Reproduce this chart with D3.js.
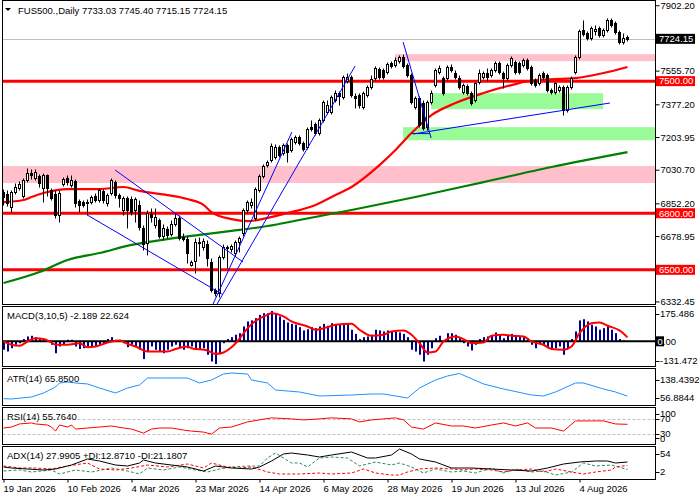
<!DOCTYPE html>
<html>
<head>
<meta charset="utf-8">
<script src="https://cdn.jsdelivr.net/npm/d3@7"></script>
<style>
  body { margin: 0; background: #fff; }
  text { font-family: "Liberation Sans", Arial, sans-serif; font-size: 9.5px; fill: #000; }
</style>
</head>
<body>
<svg id="chart" width="700" height="500"></svg>
<script>
// daily bars
const opens = [6912,6902,6833,6912,6934,6891,6976,7013,6987,6997,6934,7002,6923,6902,6791,6955,6987,6949,6971,6865,
  6859,6854,6859,6891,6870,6918,6854,6907,6965,6896,6817,6881,6875,6817,6844,6722,6642,6796,6738,6764,
  6679,6716,6690,6743,6775,6674,6663,6525,6547,6642,6621,6637,6541,6393,6377,6568,6621,6610,6589,6647,
  6695,6817,6844,6775,6923,6997,7055,7082,7098,7151,7119,7162,7135,7177,7204,7172,7151,7257,7273,7225,
  7294,7336,7336,7400,7437,7416,7501,7522,7421,7426,7363,7426,7469,7516,7564,7559,7548,7596,7585,7607,
  7628,7585,7532,7363,7410,7384,7257,7389,7479,7548,7516,7516,7575,7543,7516,7442,7474,7437,7400,7495,
  7522,7543,7532,7559,7596,7543,7516,7585,7601,7596,7585,7612,7575,7506,7490,7543,7532,7453,7442,7453,
  7469,7347,7469,7548,7628,7771,7755,7729,7766,7782,7745,7771,7824,7808,7760,7707,7733.03];
const highs = [6928,6923,6923,6960,6971,6987,7040,7034,7034,7008,7013,7008,6934,6923,6923,6992,7002,7002,6981,6875,
  6870,6875,6896,6907,6934,6928,6907,6987,6976,6907,6891,6891,6891,6886,6870,6738,6817,6828,6828,6775,
  6743,6732,6764,6801,6791,6695,6679,6552,6669,6674,6669,6658,6563,6404,6579,6637,6632,6637,6658,6679,
  6828,6870,6881,6939,7008,7061,7082,7172,7167,7162,7172,7172,7204,7215,7215,7183,7257,7294,7283,7304,
  7400,7400,7426,7453,7448,7532,7543,7532,7437,7437,7448,7479,7532,7580,7575,7570,7601,7607,7628,7638,
  7644,7596,7543,7421,7421,7400,7400,7453,7570,7585,7527,7585,7591,7559,7532,7490,7484,7448,7495,7564,
  7554,7570,7570,7607,7607,7554,7596,7633,7612,7607,7623,7623,7585,7516,7543,7554,7543,7463,7495,7479,
  7479,7479,7527,7638,7776,7824,7766,7792,7798,7792,7782,7835,7835,7819,7771,7755,7745.40];
const lows = [6844,6838,6806,6902,6923,6881,6965,6981,6976,6939,6859,6891,6870,6775,6753,6944,6949,6939,6833,6806,
  6833,6791,6849,6859,6859,6854,6838,6896,6881,6833,6791,6722,6791,6753,6711,6605,6579,6753,6722,6669,
  6658,6669,6679,6732,6658,6653,6536,6520,6483,6573,6605,6520,6382,6361,6356,6557,6510,6594,6573,6594,
  6679,6801,6828,6764,6912,6987,7045,7071,7087,7098,7108,7071,7124,7167,7162,7130,7140,7236,7215,7215,
  7283,7326,7326,7389,7373,7405,7490,7416,7357,7357,7352,7416,7458,7506,7511,7511,7538,7570,7575,7596,
  7570,7522,7379,7352,7257,7241,7241,7379,7469,7538,7426,7506,7548,7511,7458,7432,7426,7373,7389,7484,
  7511,7500,7522,7548,7538,7463,7506,7575,7538,7538,7575,7559,7479,7469,7479,7511,7442,7432,7432,7442,
  7320,7336,7458,7538,7617,7739,7718,7718,7745,7734,7734,7760,7787,7750,7697,7697,7715.15];
const closes = [6886,6854,6912,6939,6955,6976,7013,7002,7018,6960,7002,6934,6881,6791,6907,6981,6965,6976,6854,6844,
  6844,6859,6886,6870,6923,6870,6896,6976,6896,6881,6881,6817,6806,6875,6727,6637,6801,6780,6780,6679,
  6722,6685,6743,6775,6669,6663,6589,6541,6647,6647,6653,6563,6393,6377,6568,6621,6616,6626,6647,6669,
  6817,6859,6859,6928,6997,7050,7071,7156,7151,7108,7162,7124,7193,7204,7172,7140,7246,7246,7225,7294,
  7389,7373,7416,7437,7421,7522,7522,7426,7410,7373,7437,7469,7511,7570,7522,7522,7591,7580,7612,7628,
  7580,7532,7389,7410,7267,7251,7389,7437,7559,7570,7437,7575,7559,7522,7469,7479,7437,7384,7490,7543,
  7543,7522,7559,7596,7548,7516,7585,7623,7548,7548,7612,7570,7490,7479,7532,7522,7453,7442,7490,7469,
  7347,7469,7516,7628,7766,7750,7729,7782,7776,7745,7771,7824,7798,7760,7707,7729,7724.15];

// x axis labels, one every 16 bars
const dateLabels = ["19 Jan 2026","10 Feb 2026","4 Mar 2026","23 Mar 2026","14 Apr 2026",
  "6 May 2026","28 May 2026","19 Jun 2026","13 Jul 2026","4 Aug 2026"];
const labelStep = 16;

// price axis
const priceTicks = [7902.20, 7555.70, 7377.20, 7203.95, 7030.70, 6852.20, 6678.95, 6332.45];
const levels = [7500, 6800, 6500];
const lastPrice = 7724.15;

// moving averages as [bar, value]
const maRed = [[0,6859],[5,6870],[7,6886],[10,6907],[16,6928],[24,6928],[30,6939],[34,6918],[41,6896],[46,6875],
  [50,6844],[52,6806],[57,6769],[61,6758],[66,6775],[71,6801],[78,6844],[83,6896],[87,6939],[94,7055],
  [98,7135],[102,7225],[107,7320],[113,7384],[120,7437],[127,7479],[133,7506],[143,7516],[150,7543],[156,7575]];
const maGreen = [[0,6430],[9,6488],[16,6552],[24,6589],[32,6632],[41,6663],[49,6685],[57,6706],[66,6732],
  [74,6764],[87,6817],[103,6886],[120,6965],[137,7045],[156,7124]];

// zones: low, high, first bar, last bar (null = right edge)
const zoneLow   = [6960, 7606, 7351, 7187];
const zoneHigh  = [7050, 7643, 7436, 7256];
const zoneStart = [-1, 97.9, 106.9, 99.9];
const zoneEnd   = [null, null, 149.9, null];
const zoneKind  = ["pink", "pink", "green", "green"];

// trend lines [bar1, price1, bar2, price2]
const trendLines = [[27.9,7029,59.9,6541],[20.9,6791,54.6,6372],[52.4,6319,72.1,7230],[53.4,6319,87.9,7580],
  [99.9,7707,106.9,7199],[102.4,7220,151.6,7384],[102.1,7222,106.6,7222]];

// MACD(3,10,5)
const macdHist = [-49,-59,-40,-20,-11,13,28,32,24,13,9,5,-20,-69,-30,-20,9,9,-30,-45,
  -40,-30,-30,-26,-20,-11,13,24,9,9,-11,-34,-20,-30,-49,-103,-59,-30,-49,-59,
  -69,-49,-30,-20,-34,-49,-40,-30,-45,-49,-40,-78,-117,-131.472,-69,-11,13,24,38,47,
  86,115,121,134,153,163,163,175.486,163,144,124,109,101,96,82,63,70,82,76,86,
  101,90,105,101,96,96,101,67,43,13,24,28,38,67,63,57,63,57,57,51,
  43,24,-49,-59,-78,-117,-78,-40,18,32,5,47,47,38,24,-11,-30,-53,-20,13,
  24,28,32,51,38,18,32,43,28,28,24,18,-20,-40,-14,-20,-40,-40,-40,-30,
  -78,-40,13,57,121,128,115,96,86,67,76,86,67,47,13,5,-2.189];
const macdSignal = [[0,-1],[2,-20],[4,-26],[6,-1],[8,18],[10,13],[12,-7],[13,-20],[16,-20],[19,-11],[21,-34],
  [23,-30],[26,-7],[29,5],[31,-15],[33,-30],[36,-59],[38,-59],[41,-59],[43,-45],[46,-30],[47,-40],[51,-53],
  [53,-74],[55,-65],[57,-35],[59,15],[61,75],[63,118],[66,153],[67,163],[70,144],[72,115],[76,86],[78,67],
  [81,82],[83,96],[87,101],[89,67],[92,32],[95,38],[97,57],[100,63],[102,38],[104,-11],[106,-65],[108,-59],
  [110,-1],[113,28],[115,13],[117,-11],[120,-7],[122,32],[125,38],[127,32],[130,28],[132,-1],[135,-20],
  [137,-45],[140,-49],[142,-30],[144,47],[147,105],[149,109],[151,90],[154,63],[156,22.624]];

// ATR(14)
const atr = [[0,58],[2,56.9],[7,63.2],[10,75.7],[13,94.5],[14,107.1],[16,110.2],[18,107.1],[21,104],[24,91.4],
  [28,75.7],[31,91.4],[34,100.8],[36,122.8],[41,122.8],[46,122.8],[49,107.1],[52,116.5],[55,135.3],[57,138.4],
  [61,135.3],[62,116.5],[66,107.1],[68,85.1],[74,78.8],[79,66.3],[87,69.4],[92,72.6],[95,72.6],[101,60],
  [104,91.4],[108,116.5],[111,129],[114,137],[116,125.9],[120,104],[125,88.3],[132,69.4],[135,66.3],
  [138,78.8],[143,107.1],[145,107.1],[150,88.3],[153,78.8],[156,65.85]];

// RSI(14)
const rsi = [[0,46],[2,48.6],[4,56.8],[7,59.5],[8,56.8],[11,54],[12,48.6],[13,37.8],[14,54],[16,48.6],[17,54],
  [18,43.2],[21,46],[24,48.6],[27,51.4],[30,46],[32,43.2],[35,32.4],[37,43.2],[39,46],[42,46],[45,40.5],
  [47,37.8],[50,35.1],[52,29.7],[54,46],[57,48.6],[61,62.2],[64,67.6],[67,73],[72,70.3],[75,67.6],[79,70.3],
  [82,73],[87,70.3],[89,62.2],[92,67.6],[95,70.3],[98,73],[100,67.6],[102,48.6],[105,43.2],[108,59.5],
  [112,51.4],[115,51.4],[118,46],[122,54],[125,59.5],[128,51.4],[131,59.5],[133,46],[137,46],[140,37.8],
  [143,64.9],[147,64.9],[150,64.9],[153,56.8],[156,55.764]];
const rsiLevels = [70, 30];

// ADX(14)
const adx = [[0,18],[2,16],[6,14],[10,12],[13,14],[17,22],[21,34],[24,30],[28,22],[31,20],[34,26],[35,32],
  [38,26],[42,22],[46,18],[50,10],[53,20],[57,16],[62,14],[64,18],[67,30],[70,44],[72,46],[76,42],[79,38],
  [82,42],[87,48],[91,36],[93,36],[97,42],[99,54],[102,44],[104,34],[108,28],[112,16],[117,16],[122,14],
  [127,12],[132,10],[136,16],[140,24],[144,28],[148,30],[151,30],[153,26],[156,27.9905]];
const plusDI = [[0,10],[4,12],[7,8],[12,12],[14,4],[18,12],[22,8],[27,16],[31,10],[34,4],[36,16],[40,12],
  [44,18],[48,12],[51,8],[54,14],[57,18],[61,20],[64,20],[66,36],[68,46],[72,26],[74,26],[76,18],[79,36],
  [82,38],[86,36],[89,20],[93,28],[97,22],[99,26],[102,18],[105,6],[108,14],[112,8],[115,10],[118,6],
  [122,16],[125,6],[128,14],[132,8],[135,10],[138,2],[142,8],[145,26],[148,20],[152,22],[156,12.871]];
const minusDI = [[0,20],[4,16],[8,16],[12,14],[16,20],[21,26],[24,14],[28,12],[32,16],[36,22],[41,18],[46,24],
  [50,16],[52,26],[56,18],[59,16],[62,18],[66,8],[69,4],[74,4],[79,6],[82,4],[87,6],[90,14],[93,6],[97,2],
  [99,2],[101,8],[104,14],[108,16],[112,14],[115,12],[118,14],[122,12],[125,8],[128,12],[132,14],[135,8],
  [138,14],[142,8],[145,4],[148,8],[152,12],[153,18],[156,21.1807]];

const svg = d3.select("#chart");
svg.append("rect").attr("width", 700).attr("height", 500).attr("fill", "#fff");

const N = closes.length;
const left = 2.5, right = 655.5;
const panels = {
  main: [0.5, 304.5], macd: [306.5, 366.5], atr: [368.5, 405.5], rsi: [407.5, 444.5], adx: [446.5, 479.5]
};

const x = d3.scaleLinear().domain([0, N - 1]).range([3.5, 3.5 + 4 * (N - 1)]);
const yMain = d3.scaleLinear().domain([6313.5, 7924.7]).range([305, 1]);
const yMacd = d3.scaleLinear().domain([-131.472, 175.486]).range([364, 311]);
const yAtr = d3.scaleLinear().domain([56.8844, 138.4392]).range([399, 373]);
const yRsi = d3.scaleLinear().domain([0, 100]).range([445.25, 407.75]);
const yAdx = d3.scaleLinear().domain([2, 54]).range([475, 449]);

// clip paths for each panel
const defs = svg.append("defs");
Object.entries(panels).forEach(([k, [t, b]]) => {
  defs.append("clipPath").attr("id", "clip-" + k)
    .append("rect").attr("x", left + 0.5).attr("y", t + 0.5)
    .attr("width", right - left - 1).attr("height", b - t - 1);
});
const layer = (k) => svg.append("g").attr("clip-path", `url(#clip-${k})`);

// ---------- main chart ----------
const gMain = layer("main");

gMain.selectAll("rect.zone")
  .data(zoneLow.map((lo, i) => ({ lo, hi: zoneHigh[i], s: zoneStart[i], e: zoneEnd[i], k: zoneKind[i] })))
  .join("rect")
  .attr("class", "zone")
  .attr("x", (d) => x(d.s))
  .attr("width", (d) => (d.e === null ? right : x(d.e)) - x(d.s))
  .attr("y", (d) => yMain(d.hi))
  .attr("height", (d) => yMain(d.lo) - yMain(d.hi))
  .attr("fill", (d) => (d.k === "pink" ? "#ffc0cb" : "#98fb98"));

// current price line
gMain.append("line")
  .attr("x1", left).attr("x2", right)
  .attr("y1", Math.round(yMain(lastPrice)) + 0.5).attr("y2", Math.round(yMain(lastPrice)) + 0.5)
  .attr("stroke", "#c0c0c0");

gMain.selectAll("line.level")
  .data(levels)
  .join("line")
  .attr("class", "level")
  .attr("x1", left).attr("x2", right)
  .attr("y1", (d) => yMain(d)).attr("y2", (d) => yMain(d))
  .attr("stroke", "#ff0000").attr("stroke-width", 3);

const maLine = d3.line().x((d) => x(d[0])).y((d) => yMain(d[1])).curve(d3.curveMonotoneX);
gMain.append("path").attr("d", maLine(maGreen)).attr("fill", "none")
  .attr("stroke", "#008000").attr("stroke-width", 2.2);
gMain.append("path").attr("d", maLine(maRed)).attr("fill", "none")
  .attr("stroke", "#ff0000").attr("stroke-width", 2.2);

// candles
const bars = d3.range(N);
const snap = (v) => Math.round(v) + 0.5;
const candle = gMain.selectAll("g.candle").data(bars).join("g").attr("class", "candle");
candle.append("line")
  .attr("x1", (i) => x(i)).attr("x2", (i) => x(i))
  .attr("y1", (i) => snap(yMain(highs[i]))).attr("y2", (i) => snap(yMain(lows[i])))
  .attr("stroke", "#000");
candle.append("rect")
  .attr("x", (i) => x(i) - 1)
  .attr("width", 2)
  .attr("y", (i) => snap(yMain(Math.max(opens[i], closes[i]))))
  .attr("height", (i) => Math.max(0, snap(yMain(Math.min(opens[i], closes[i]))) - snap(yMain(Math.max(opens[i], closes[i])))))
  .attr("fill", (i) => (closes[i] >= opens[i] ? "#fff" : "#000"))
  .attr("stroke", "#000");

// trend lines
gMain.selectAll("line.trend")
  .data(trendLines)
  .join("line")
  .attr("class", "trend")
  .attr("x1", (d) => x(d[0])).attr("y1", (d) => yMain(d[1]))
  .attr("x2", (d) => x(d[2])).attr("y2", (d) => yMain(d[3]))
  .attr("stroke", "#0000ff").attr("stroke-width", 1);

// ---------- MACD ----------
const gMacd = layer("macd");
gMacd.selectAll("rect").data(macdHist).join("rect")
  .attr("x", (d, i) => x(i) - 0.5)
  .attr("width", 2)
  .attr("y", (d) => Math.min(yMacd(0), yMacd(d)))
  .attr("height", (d) => Math.abs(yMacd(d) - yMacd(0)))
  .attr("fill", "#00008b");
gMacd.append("line").attr("x1", left).attr("x2", right)
  .attr("y1", yMacd(0)).attr("y2", yMacd(0))
  .attr("stroke", "#000").attr("stroke-width", 2);
const lineOf = (sc) => d3.line().x((d) => x(d[0])).y((d) => sc(d[1])).curve(d3.curveMonotoneX);
gMacd.append("path").attr("d", lineOf(yMacd)(macdSignal)).attr("fill", "none")
  .attr("stroke", "#ff0000").attr("stroke-width", 2);

// ---------- ATR ----------
const gAtr = layer("atr");
gAtr.append("path").attr("d", d3.line().x((d) => x(d[0])).y((d) => yAtr(d[1]))(atr))
  .attr("fill", "none").attr("stroke", "#1e90ff").attr("stroke-width", 1);

// ---------- RSI ----------
const gRsi = layer("rsi");
gRsi.selectAll("line.lvl").data(rsiLevels).join("line")
  .attr("x1", left).attr("x2", right)
  .attr("y1", (d) => snap(yRsi(d))).attr("y2", (d) => snap(yRsi(d)))
  .attr("stroke", "#c0c0c0").attr("stroke-dasharray", "3,2");
gRsi.append("path").attr("d", d3.line().x((d) => x(d[0])).y((d) => yRsi(d[1]))(rsi))
  .attr("fill", "none").attr("stroke", "#ff0000").attr("stroke-width", 1);

// ---------- ADX ----------
const gAdx = layer("adx");
const adxLine = d3.line().x((d) => x(d[0])).y((d) => yAdx(d[1]));
gAdx.append("path").attr("d", adxLine(plusDI)).attr("fill", "none")
  .attr("stroke", "#2e8b57").attr("stroke-dasharray", "3,2");
gAdx.append("path").attr("d", adxLine(minusDI)).attr("fill", "none")
  .attr("stroke", "#ff0000").attr("stroke-dasharray", "3,2");
gAdx.append("path").attr("d", adxLine(adx)).attr("fill", "none")
  .attr("stroke", "#000").attr("stroke-width", 1);

// ---------- frames ----------
Object.values(panels).forEach(([t, b]) => {
  svg.append("rect").attr("x", left).attr("y", t).attr("width", right - left).attr("height", b - t)
    .attr("fill", "none").attr("stroke", "#000");
});

// ---------- axes ----------
const priceAxis = svg.append("g").attr("transform", `translate(${right},0)`)
  .call(d3.axisRight(yMain).tickValues(priceTicks).tickFormat(d3.format(".2f")).tickSize(4).tickPadding(1));
priceAxis.select(".domain").remove();
priceAxis.selectAll("text").style("font-size", "9.5px").style("font-family", '"Liberation Sans", Arial, sans-serif');

// labelled boxes on the price scale
const boxes = [{ v: lastPrice, c: "#000" }].concat(levels.map((v) => ({ v, c: "#ff0000" })));
const boxG = svg.selectAll("g.box").data(boxes).join("g").attr("class", "box")
  .attr("transform", (d) => `translate(${right + 0.5},${yMain(d.v)})`);
boxG.append("rect").attr("x", 0).attr("y", -5).attr("width", 39).attr("height", 10).attr("fill", (d) => d.c);
boxG.append("text").attr("x", 3).attr("dy", "0.35em").style("fill", "#fff").text((d) => d3.format(".2f")(d.v));

// sub window scale labels
const subLabels = [
  { t: "175.486", y: yMacd(175.486) + 3 },
  { t: "-131.472", y: yMacd(-131.472) - 3 },
  { t: "138.4392", y: yAtr(138.4392) + 7 },
  { t: "56.8844", y: yAtr(56.8844) - 1 },
  { t: "100", y: yRsi(100) + 6 },
  { t: "70", y: yRsi(70) },
  { t: "30", y: yRsi(30) },
  { t: "0", y: yRsi(0) - 7 },
  { t: "54", y: yAdx(54) + 5 },
  { t: "2", y: yAdx(2) - 3 }
];
svg.selectAll("text.sub").data(subLabels).join("text").attr("class", "sub")
  .attr("x", 660).attr("y", (d) => d.y).attr("dy", "0.35em").text((d) => d.t);
svg.selectAll("line.subtick").data(subLabels).join("line").attr("class", "subtick")
  .attr("x1", right).attr("x2", right + 4).attr("y1", (d) => snap(d.y)).attr("y2", (d) => snap(d.y))
  .attr("stroke", "#000");

// MACD zero marker
const zeroG = svg.append("g").attr("transform", `translate(${right + 0.5},${yMacd(0)})`);
zeroG.append("rect").attr("x", 0).attr("y", -5).attr("width", 8).attr("height", 10).attr("fill", "#000");
const zt = zeroG.append("text").attr("x", 1.5).attr("dy", "0.35em");
zt.append("tspan").style("fill", "#fff").text("0");
zt.append("tspan").text(".00");

// date axis
const dateAxis = svg.append("g").attr("transform", `translate(0,${panels.adx[1]})`)
  .call(d3.axisBottom(x).tickValues(d3.range(0, N, labelStep)).tickFormat((d, i) => dateLabels[i]).tickSize(3));
dateAxis.select(".domain").remove();
dateAxis.selectAll("text").attr("text-anchor", "start").attr("x", -0.5)
  .style("font-size", "9.5px").style("font-family", '"Liberation Sans", Arial, sans-serif');

// ---------- titles ----------
svg.append("path").attr("d", "M5,8 L11,8 L8,11 Z").attr("fill", "#000");
svg.append("text").attr("x", 18).attr("y", 14)
  .text("FUS500.,Daily  7733.03 7745.40 7715.15 7724.15");
svg.append("text").attr("x", 7).attr("y", 319).text("MACD(3,10,5) -2.189 22.624");
svg.append("text").attr("x", 7).attr("y", 382).text("ATR(14) 65.8500");
svg.append("text").attr("x", 7).attr("y", 420).text("RSI(14) 55.7640");
svg.append("text").attr("x", 7).attr("y", 459).text("ADX(14) 27.9905 +DI:12.8710 -DI:21.1807");
</script>
</body>
</html>
